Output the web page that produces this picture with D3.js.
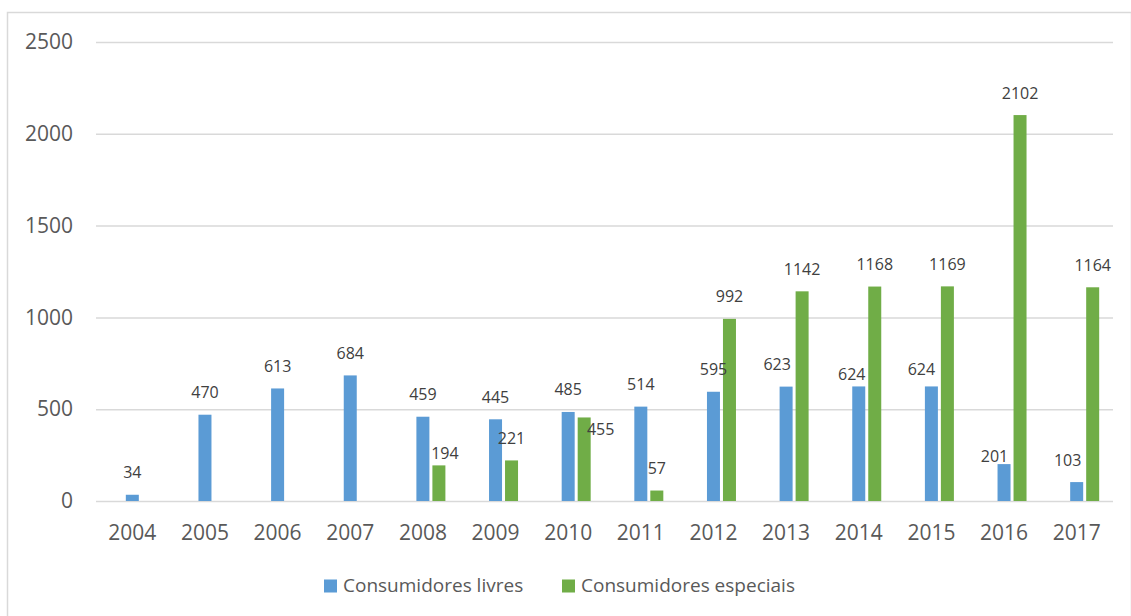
<!DOCTYPE html>
<html>
<head>
<meta charset="utf-8">
<script src="https://cdn.jsdelivr.net/npm/d3@7"></script>
<style>
	body { margin: 0; background: #fff; }
	text { font-family: "Open Sans", "Noto Sans", sans-serif; }
</style>
</head>
<body>
<svg id="chart"></svg>
<script>
// data
const years = ["2004", "2005", "2006", "2007", "2008", "2009", "2010", "2011", "2012", "2013", "2014", "2015", "2016", "2017"];
const livres = [34, 470, 613, 684, 459, 445, 485, 514, 595, 623, 624, 624, 201, 103];
const especiais = [null, null, null, null, 194, 221, 455, 57, 992, 1142, 1168, 1169, 2102, 1164];
const yTicks = [0, 500, 1000, 1500, 2000, 2500];
const seriesNames = ["Consumidores livres", "Consumidores especiais"];

// hand-moved labels in the original (pixel nudges from default spot)
const labelNudge = {
	"livres-2013": [-9, 0],
	"livres-2014": [-7, 10],
	"livres-2015": [-10, 5],
	"livres-2016": [-9.5, 14],
	"livres-2017": [-9, 0],
	"especiais-2008": [6, 10.5],
	"especiais-2010": [16.5, 34]
};

const w = 1131, h = 616;
const plotLeft = 96, plotRight = 1113, plotTop = 42, plotBottom = 501;
const colors = { livres: "#5B9BD5", especiais: "#70AD47" };

const chart = d3.select("#chart").attr("width", w).attr("height", h);

// outer frame
chart.append("rect")
	.attr("x", 7.5).attr("y", 12.5)
	.attr("width", 1124).attr("height", 620)
	.attr("fill", "none").attr("stroke", "#d9d9d9").attr("stroke-width", 1.5);

const xScale = d3.scaleBand().domain(years).range([plotLeft, plotRight]);
// inner offsets: blue bar sits on the category centre, green right of it
const xInner = d3.scaleBand().domain(["livres", "especiais"])
	.range([-6.5, 22.5]).paddingInner(3 / 16);
const yScale = d3.scaleLinear().domain([0, 2500]).range([plotBottom, plotTop]);

// y axis + gridlines
const yAxisGroup = chart.append("g")
	.attr("transform", `translate(${plotLeft},0)`)
	.call(d3.axisLeft(yScale).tickValues(yTicks).tickFormat(d3.format("d"))
		.tickSize(-(plotRight - plotLeft)).tickPadding(23));
yAxisGroup.select(".domain").remove();
yAxisGroup.selectAll("line").attr("stroke", "#d9d9d9").attr("stroke-width", 1.5);
yAxisGroup.selectAll("text")
	.style("font-family", "'Open Sans', sans-serif")
	.attr("font-size", 21).attr("fill", "#595959");

// x axis
const xAxisGroup = chart.append("g")
	.attr("transform", `translate(0,${plotBottom})`)
	.call(d3.axisBottom(xScale).tickSize(0).tickPadding(24));
xAxisGroup.select(".domain").remove();
xAxisGroup.selectAll("text")
	.style("font-family", "'Open Sans', sans-serif")
	.attr("font-size", 21).attr("fill", "#595959");

// bars
const rows = [];
years.forEach((yr, i) => {
	rows.push({ key: "livres", year: yr, value: livres[i] });
	rows.push({ key: "especiais", year: yr, value: especiais[i] });
});
const valid = rows.filter(d => d.value != null);

const barX = d => xScale(d.year) + xScale.bandwidth() / 2 + xInner(d.key);

chart.append("g").selectAll("rect")
	.data(valid)
	.join("rect")
	.attr("x", barX)
	.attr("width", xInner.bandwidth())
	.attr("y", d => yScale(d.value))
	.attr("height", d => plotBottom - yScale(d.value))
	.attr("fill", d => colors[d.key]);

// value labels
chart.append("g").selectAll("text")
	.data(valid)
	.join("text")
	.attr("x", d => {
		const n = labelNudge[d.key + "-" + d.year] || [0, 0];
		return barX(d) + xInner.bandwidth() / 2 + n[0];
	})
	.attr("y", d => {
		const n = labelNudge[d.key + "-" + d.year] || [0, 0];
		return yScale(d.value) - 16.5 + n[1];
	})
	.attr("text-anchor", "middle")
	.attr("font-size", 16)
	.attr("fill", "#404040")
	.text(d => d.value);

// legend
const legendX = [324, 562];
const legend = chart.append("g");
["livres", "especiais"].forEach((k, i) => {
	legend.append("rect")
		.attr("x", legendX[i]).attr("y", 579.5)
		.attr("width", 13).attr("height", 13)
		.attr("fill", colors[k]);
	legend.append("text")
		.attr("x", legendX[i] + 19).attr("y", 592)
		.attr("font-size", 19).attr("fill", "#595959")
		.text(seriesNames[i]);
});
</script>
</body>
</html>
